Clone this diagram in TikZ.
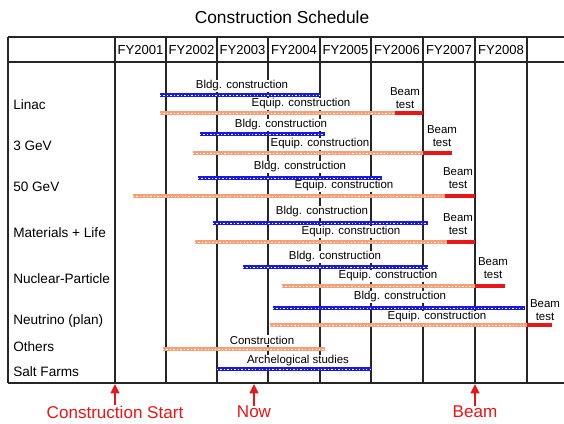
\documentclass[tikz,border=0pt]{standalone}
\usepackage{fontspec}
\setmainfont{Liberation Sans}
\usepackage{xcolor}
\usetikzlibrary{arrows.meta,positioning,calc}
\definecolor{bldgblue}{RGB}{25,25,225}
\definecolor{equiporange}{RGB}{247,160,120}
\definecolor{beamred}{RGB}{232,22,22}

\begin{document}
\begin{tikzpicture}[x=0.75pt,y=-0.75pt,
  grid/.style={line width=0.8pt,black!85},
  bldgbar/.style={draw=bldgblue,line width=2.4pt,postaction={draw=white,line width=0.7pt,dash pattern=on 1pt off 1.6pt}},
  equipbar/.style={draw=equiporange,line width=2.4pt,postaction={draw=white,line width=0.7pt,dash pattern=on 1pt off 1.6pt}},
  beambar/.style={draw=beamred,line width=2.4pt},
  barlabel/.style={font=\fontsize{8.6}{9.8}\selectfont,fill=white,inner sep=0.6pt},
  beamlabel/.style={font=\fontsize{8.6}{9.8}\selectfont,align=center,inner sep=0pt},
  rowlabel/.style={font=\fontsize{10.2}{12}\selectfont,anchor=west,inner sep=0pt},
  headlabel/.style={font=\fontsize{9.8}{12}\selectfont,inner sep=0pt},
  redlabel/.style={font=\fontsize{12.8}{14}\selectfont,text=beamred,inner sep=0pt},
  redarrow/.style={draw=beamred,line width=1.6pt,-{Triangle[length=7pt,width=6.5pt]}}]
\useasboundingbox (0,0) rectangle (564,424);
\node[font=\fontsize{13}{15}\selectfont,inner sep=0pt] (title) at (282,17) {Construction Schedule};
% table
\draw[grid] (8,37) -- (564,37) (8,62) -- (564,62) (8,383) -- (564,383) (8,37) -- (8,383);
\foreach \x in {115,166,217,268,320,371,423,475,527}{
  \draw[grid] (\x,37) -- (\x,383);
}
\foreach \x/\fy in {140.5/2001,191.5/2002,242.5/2003,294/2004,345.5/2005,397/2006,449/2007,501/2008}{
  \node[headlabel] (fy\fy) at (\x,50) {FY\fy};
}
\foreach \y/\lab [count=\i] in {105/Linac,146/3 GeV,187/50 GeV,233/Materials + Life,279/Nuclear-Particle,321/Neutrino (plan),347/Others,372/Salt Farms}{
  \node[rowlabel] (row\i) at (13,\y) {\lab};
}
% bars
\foreach \y/\xa/\xb in {95/160/320,134/200/325,178/198/382,223/213/428,267/243/428,308/273/525,369/217/371}{
  \draw[bldgbar] (\xa,\y) -- (\xb,\y);
}
\foreach \y/\xa/\xb in {113/160/395,153/193/423,196/133/445,242/195/447,286/282/475,325/270/527,349/163/325}{
  \draw[equipbar] (\xa,\y) -- (\xb,\y);
}
\foreach \y/\xa/\xb in {113/395/423,153/423/452,196/445/475,242/447/475,286/475/505,325/527/552}{
  \draw[beambar] (\xa,\y) -- (\xb,\y);
}
% labels
\foreach \x/\y [count=\i] in {242/86,281/125,300/167,322/212,335/257,400/297}{
  \node[barlabel] (bldg\i) at (\x,\y) {Bldg. construction};
}
\foreach \x/\y [count=\i] in {301/104,320/144,344/186,351/232,388/276,437/317}{
  \node[barlabel] (equip\i) at (\x,\y) {Equip. construction};
}
\node[barlabel] (others) at (262,340) {Construction};
\node[barlabel] (archeo) at (298,361) {Archelogical studies};
\foreach \x/\y [count=\i] in {405/98.5,442/136.5,458/178.5,458/224.5,493/268.5,545/310}{
  \node[beamlabel] (beam\i) at (\x,\y) {Beam\\test};
}
% milestones
\node[redlabel] (startlbl) at (115,412) {Construction Start};
\node[redlabel] (nowlbl) at (254,412) {Now};
\node[redlabel] (beamlbl) at (475,412) {Beam};
\coordinate (startpt) at (115,384);
\coordinate (nowpt) at (254,384);
\coordinate (beampt) at (475,384);
\draw[redarrow] (startlbl) -- (startpt);
\draw[redarrow] (nowlbl) -- (nowpt);
\draw[redarrow] (beamlbl) -- (beampt);
\end{tikzpicture}
\end{document}
